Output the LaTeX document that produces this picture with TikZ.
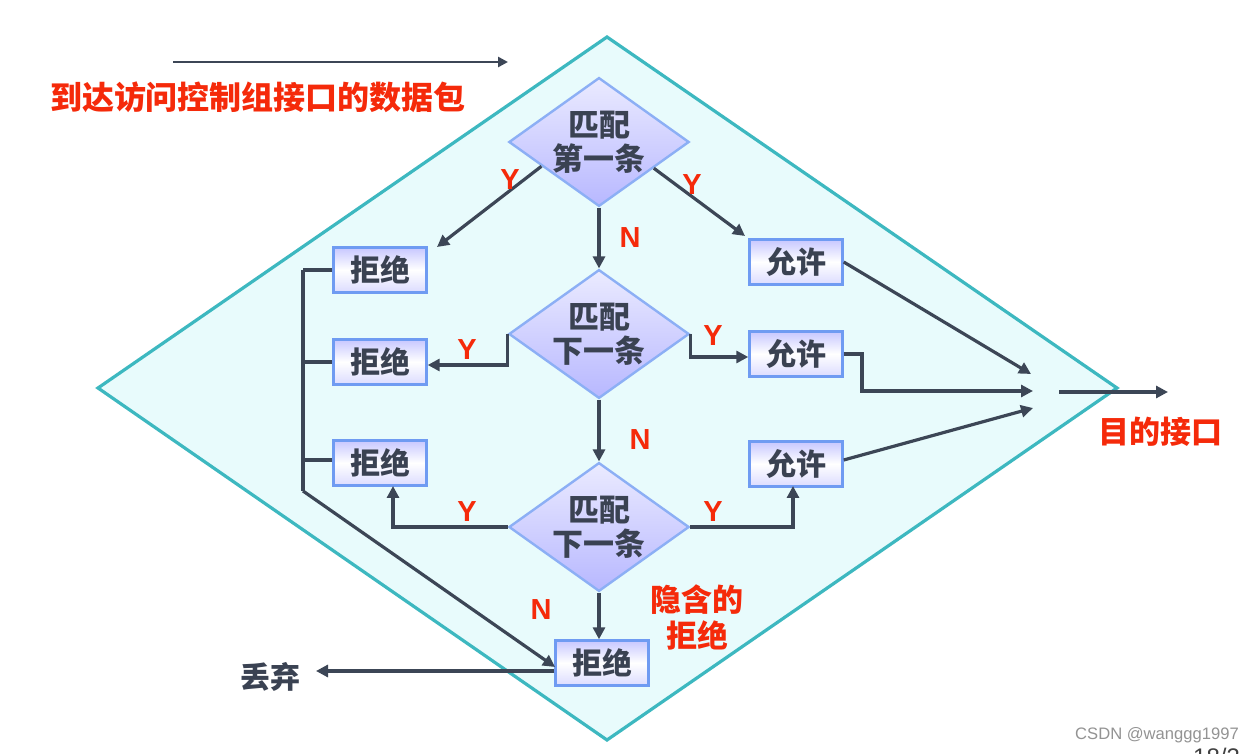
\documentclass[tikz,border=0pt]{standalone}
\usepackage{fontspec}
\setmainfont{Liberation Sans}
\newfontfamily\cjk{Noto Sans CJK SC}
\usetikzlibrary{shapes.geometric,arrows.meta,calc}
\definecolor{lineC}{HTML}{3C4656}
\definecolor{redC}{HTML}{F52A0A}
\definecolor{txtC}{HTML}{3A4252}
\definecolor{tealC}{HTML}{3DB8C0}
\definecolor{bgC}{HTML}{E8FBFC}
\definecolor{boxB}{HTML}{6F9BF2}
\tikzset{
  conn/.style={draw=lineC, line width=1.6pt, -{Triangle[length=6pt,width=6pt]}},
  plain/.style={draw=lineC, line width=1.6pt},
  decide/.style={diamond, aspect=1.4, inner sep=0pt, minimum width=86.5pt, minimum height=61.5pt,
    draw=boxB!80, line width=1.2pt, top color=blue!8!white, bottom color=blue!28!white,
    font=\cjk\bfseries\fontsize{15.5}{17}\selectfont, text=txtC, align=center},
  actbox/.style={rectangle, minimum width=46.5pt, minimum height=22.5pt, inner sep=0pt,
    draw=boxB, line width=1.2pt, top color=blue!22!white, bottom color=blue!14!white, middle color=white,
    font=\cjk\bfseries\fontsize{15}{16}\selectfont, text=txtC},
  redlbl/.style={font=\cjk\bfseries\fontsize{15.5}{18}\selectfont, text=redC, align=center},
  yn/.style={font=\bfseries\fontsize{14.5}{15}\selectfont, text=redC},
}
\begin{document}
\begin{tikzpicture}[x=0.5pt,y=-0.5pt]
\useasboundingbox (0,0) rectangle (1249,754);
\fill[white] (0,0) rectangle (1249,754);
% big diamond
\draw[tealC, fill=bgC, line width=1.6pt] (607,37) -- (1117,388) -- (607,740) -- (98,388) -- cycle;

% title and input arrow
\coordinate (inS) at (173,62);
\coordinate (inE) at (508,62);
\draw[draw=lineC, line width=1.3pt, -{Triangle[length=5pt,width=5pt]}] (inS) -- (inE);
\node[redlbl, font=\cjk\bfseries\fontsize{16}{18}\selectfont] (title) at (258,97) {到达访问控制组接口的数据包};

% decisions
\node[decide] (d1) at (599,142) {匹配\\第一条};
\node[decide] (d2) at (599,334) {匹配\\下一条};
\node[decide] (d3) at (599,527) {匹配\\下一条};

% deny boxes
\node[actbox] (r1) at (380,270) {拒绝};
\node[actbox] (r2) at (380,362) {拒绝};
\node[actbox] (r3) at (380,463) {拒绝};
\node[actbox] (r4) at (602,663) {拒绝};
% permit boxes
\node[actbox] (p1) at (796,262) {允许};
\node[actbox] (p2) at (796,354) {允许};
\node[actbox] (p3) at (796,464) {允许};

% decision 1
\draw[conn] ($(d1.west)!0.37!(d1.south)$) -- (437,247);
\draw[conn] ($(d1.east)!0.4!(d1.south)$) -- (745,236);
\draw[conn] (d1.south) -- (d2.north);
\node[yn] (y1) at (510,180) {Y};
\node[yn] (y2) at (692,185) {Y};
\node[yn] (n1) at (630,238) {N};

% decision 2
\draw[conn] (d2.west) -- ++(0,31) -- (r2.east |- 0,365);
\draw[conn] (d2.east) -- ++(0,23) -- (p2.west |- 0,357);
\draw[conn] (d2.south) -- (d3.north);
\node[yn] (y3) at (467,350) {Y};
\node[yn] (y4) at (713,336) {Y};
\node[yn] (n2) at (640,440) {N};

% decision 3
\draw[conn] (d3.west) -- (393,527) -- (393,486);
\draw[conn] (d3.east) -- (793,527) -- (793,486);
\draw[conn] (d3.south) -- (d3.south |- r4.north);
\node[yn] (y5) at (467,512) {Y};
\node[yn] (y6) at (713,512) {Y};
\node[yn] (n3) at (541,610) {N};
\node[redlbl] (implicit) at (697,617) {隐含的\\拒绝};

% left bus
\coordinate (busT) at (303,270);
\coordinate (busB) at (303,491);
\draw[plain] (busT) -- (busB);
\draw[plain] (busT) -- (r1.west);
\draw[plain] (303,362) -- (r2.west);
\draw[plain] (303,460) -- (r3.west |- 0,460);
\draw[conn] (busB) -- (555,667);

% discard
\node[font=\cjk\bfseries\fontsize{15}{16}\selectfont, text=txtC] (drop) at (270,677) {丢弃};
\draw[conn] (r4.west |- 0,671) -- (316,671);

% to destination
\coordinate (m1) at (1031,374);
\coordinate (m2) at (1033,391);
\coordinate (m3) at (1033,408);
\draw[conn] (p1.east) -- (m1);
\draw[conn] (p2.east) -- (862,354) -- (862,391) -- (m2);
\draw[conn] (p3.east |- 0,460) -- (m3);
\coordinate (oS) at (1059,392);
\coordinate (oE) at (1168,392);
\draw[conn] (oS) -- (oE);
\node[redlbl] (dest) at (1160,432) {目的接口};

% watermark
\node[font=\fontsize{8.3}{9}\selectfont, text=gray!85] (wm) at (1157,735) {CSDN @wanggg1997};
\node[font=\fontsize{12}{13}\selectfont, text=black!75, anchor=north east] (pg) at (1247,741) {18/3};
\end{tikzpicture}
\end{document}
